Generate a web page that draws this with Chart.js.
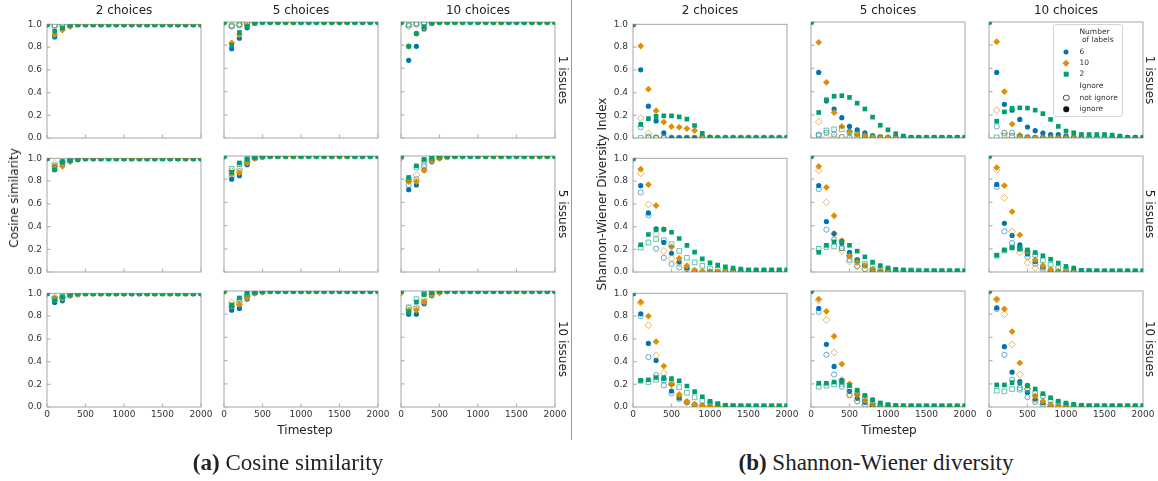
<!DOCTYPE html>
<html>
<head>
<meta charset="utf-8">
<script src="https://cdn.jsdelivr.net/npm/chart.js@4.4.1/dist/chart.umd.min.js"></script>
<style>
	body{margin:0;width:1158px;height:481px;position:relative;background:#fff;overflow:hidden;font-family:"DejaVu Sans",sans-serif;color:#222;}
	canvas{position:absolute;}
	.t{position:absolute;white-space:nowrap;transform-origin:center center;}
	#legend{position:absolute;left:1053px;top:24px;width:68px;height:91px;border:1px solid #d4d4d4;border-radius:3px;background:rgba(255,255,255,0.85);z-index:5;font-size:7.5px;color:#333;}
	#legend div{position:absolute;white-space:nowrap;}
</style>
</head>
<body>
<script>
// timesteps on the x axis
const T = [0,100,200,300,400,500,600,700,800,900,1000,1100,1200,1300,1400,1500,1600,1700,1800,1900,2000];
const xTicks = [0,500,1000,1500,2000];
const yTicks = [0,0.2,0.4,0.6,0.8,1.0];
const choices = ['2 choices','5 choices','10 choices'];
const issues = ['1 issues','5 issues','10 issues'];
const labelCounts = ['6','10','2'];
const ignoreLabels = ['not ignore','ignore'];

// each panel: [6 ignore, 6 not ignore, 10 ignore, 10 not ignore, 2 ignore, 2 not ignore]
// cosine similarity
const cos_1i_2c = [
	[1,.89,.96,.99,1,1,1,1,1,1,1,1,1,1,1,1,1,1,1,1,1],
	[1,.99,1,1,1,1,1,1,1,1,1,1,1,1,1,1,1,1,1,1,1],
	[1,.91,.95,.98,1,1,1,1,1,1,1,1,1,1,1,1,1,1,1,1,1],
	[1,.99,1,1,1,1,1,1,1,1,1,1,1,1,1,1,1,1,1,1,1],
	[1,.94,.97,.99,1,1,1,1,1,1,1,1,1,1,1,1,1,1,1,1,1],
	[1,.99,.99,1,1,1,1,1,1,1,1,1,1,1,1,1,1,1,1,1,1]];
const cos_1i_5c = [
	[1,.77,.86,.95,.99,1,1,1,1,1,1,1,1,1,1,1,1,1,1,1,1],
	[1,.96,.97,.99,1,1,1,1,1,1,1,1,1,1,1,1,1,1,1,1,1],
	[.99,.82,.89,.97,.99,1,1,1,1,1,1,1,1,1,1,1,1,1,1,1,1],
	[1,.97,.98,.99,1,1,1,1,1,1,1,1,1,1,1,1,1,1,1,1,1],
	[1,.80,.91,.96,.99,1,1,1,1,1,1,1,1,1,1,1,1,1,1,1,1],
	[1,.97,.98,.99,1,1,1,1,1,1,1,1,1,1,1,1,1,1,1,1,1]];
const cos_1i_10c = [
	[1,.67,.79,.94,.99,1,1,1,1,1,1,1,1,1,1,1,1,1,1,1,1],
	[1,.97,.98,.99,1,1,1,1,1,1,1,1,1,1,1,1,1,1,1,1,1],
	[.99,.79,.90,.95,.99,1,1,1,1,1,1,1,1,1,1,1,1,1,1,1,1],
	[1,.96,.98,.99,1,1,1,1,1,1,1,1,1,1,1,1,1,1,1,1,1],
	[1,.79,.90,.96,.99,1,1,1,1,1,1,1,1,1,1,1,1,1,1,1,1],
	[1,.98,.99,.99,1,1,1,1,1,1,1,1,1,1,1,1,1,1,1,1,1]];
const cos_5i_2c = [
	[1,.90,.95,.98,.99,1,1,1,1,1,1,1,1,1,1,1,1,1,1,1,1],
	[1,.94,.97,.99,1,1,1,1,1,1,1,1,1,1,1,1,1,1,1,1,1],
	[1,.93,.93,.97,.99,1,1,1,1,1,1,1,1,1,1,1,1,1,1,1,1],
	[1,.96,.97,.99,1,1,1,1,1,1,1,1,1,1,1,1,1,1,1,1,1],
	[1,.90,.97,.98,.99,1,1,1,1,1,1,1,1,1,1,1,1,1,1,1,1],
	[1,.92,.97,.99,1,1,1,1,1,1,1,1,1,1,1,1,1,1,1,1,1]];
const cos_5i_5c = [
	[1,.80,.83,.925,.98,.99,1,1,1,1,1,1,1,1,1,1,1,1,1,1,1],
	[1,.825,.87,.94,.98,1,1,1,1,1,1,1,1,1,1,1,1,1,1,1,1],
	[.99,.845,.855,.94,.98,.99,1,1,1,1,1,1,1,1,1,1,1,1,1,1,1],
	[1,.87,.89,.95,.985,1,1,1,1,1,1,1,1,1,1,1,1,1,1,1,1],
	[1,.86,.94,.975,.99,1,1,1,1,1,1,1,1,1,1,1,1,1,1,1,1],
	[1,.89,.93,.97,.99,1,1,1,1,1,1,1,1,1,1,1,1,1,1,1,1]];
const cos_5i_10c = [
	[1,.71,.75,.88,.95,.98,.99,1,1,1,1,1,1,1,1,1,1,1,1,1,1],
	[1,.75,.80,.91,.96,.99,1,1,1,1,1,1,1,1,1,1,1,1,1,1,1],
	[.98,.78,.78,.875,.955,.98,.99,1,1,1,1,1,1,1,1,1,1,1,1,1,1],
	[1,.79,.835,.93,.97,.99,1,1,1,1,1,1,1,1,1,1,1,1,1,1,1],
	[1,.815,.915,.97,.99,1,1,1,1,1,1,1,1,1,1,1,1,1,1,1,1],
	[1,.80,.90,.96,.98,.99,1,1,1,1,1,1,1,1,1,1,1,1,1,1,1]];
const cos_10i_2c = [
	[1,.92,.935,.98,.99,1,1,1,1,1,1,1,1,1,1,1,1,1,1,1,1],
	[1,.94,.96,.99,1,1,1,1,1,1,1,1,1,1,1,1,1,1,1,1,1],
	[1,.96,.955,.98,.99,1,1,1,1,1,1,1,1,1,1,1,1,1,1,1,1],
	[1,.97,.97,.99,1,1,1,1,1,1,1,1,1,1,1,1,1,1,1,1,1],
	[1,.935,.97,.99,1,1,1,1,1,1,1,1,1,1,1,1,1,1,1,1,1],
	[1,.95,.975,.99,1,1,1,1,1,1,1,1,1,1,1,1,1,1,1,1,1]];
const cos_10i_5c = [
	[1,.835,.85,.93,.98,.99,1,1,1,1,1,1,1,1,1,1,1,1,1,1,1],
	[1,.855,.88,.95,.985,1,1,1,1,1,1,1,1,1,1,1,1,1,1,1,1],
	[.99,.87,.885,.94,.98,.99,1,1,1,1,1,1,1,1,1,1,1,1,1,1,1],
	[1,.90,.905,.955,.99,1,1,1,1,1,1,1,1,1,1,1,1,1,1,1,1],
	[1,.875,.94,.98,.99,1,1,1,1,1,1,1,1,1,1,1,1,1,1,1,1],
	[1,.88,.93,.97,.99,1,1,1,1,1,1,1,1,1,1,1,1,1,1,1,1]];
const cos_10i_10c = [
	[1,.80,.80,.89,.96,.99,1,1,1,1,1,1,1,1,1,1,1,1,1,1,1],
	[1,.82,.85,.91,.97,.99,1,1,1,1,1,1,1,1,1,1,1,1,1,1,1],
	[.98,.835,.835,.905,.965,.985,1,1,1,1,1,1,1,1,1,1,1,1,1,1,1],
	[1,.85,.86,.93,.975,.99,1,1,1,1,1,1,1,1,1,1,1,1,1,1,1],
	[1,.815,.905,.97,.99,1,1,1,1,1,1,1,1,1,1,1,1,1,1,1,1],
	[1,.86,.93,.975,.99,1,1,1,1,1,1,1,1,1,1,1,1,1,1,1,1]];

// shannon-wiener diversity
const div_1i_2c = [
	[1,.60,.28,.15,.045,0,0,0,0,0,0,0,0,0,0,0,0,0,0,0,0],
	[1,.095,.01,0,0,0,0,0,0,0,0,0,0,0,0,0,0,0,0,0,0],
	[1,.81,.43,.24,.14,.10,.095,.083,.066,.015,.005,0,0,0,0,0,0,0,0,0,0],
	[1,.175,.04,.005,0,0,0,0,0,0,0,0,0,0,0,0,0,0,0,0,0],
	[1,.12,.17,.19,.195,.195,.186,.166,.11,.04,.005,0,0,0,0,0,0,0,0,0,0],
	[1,0,.005,0,0,0,0,0,0,0,0,0,0,0,0,0,0,0,0,0,0]];
const div_1i_5c = [
	[1,.565,.32,.25,.175,.10,.07,.045,.02,.01,0,0,0,0,0,0,0,0,0,0,0],
	[1,.03,.045,.03,.01,.005,0,0,0,0,0,0,0,0,0,0,0,0,0,0,0],
	[1,.825,.48,.22,.10,.055,.03,.02,.01,.005,0,0,0,0,0,0,0,0,0,0,0],
	[1,.14,.005,.005,.005,0,0,0,0,0,0,0,0,0,0,0,0,0,0,0,0],
	[1,.22,.33,.36,.365,.35,.30,.25,.18,.11,.07,.037,.017,.005,.005,.005,.005,.005,.005,.005,.005],
	[1,.02,.065,.075,.075,.05,.04,.02,.01,.005,0,0,0,0,0,0,0,0,0,0,0]];
const div_1i_10c = [
	[1,.565,.29,.24,.16,.095,.063,.043,.03,.03,.017,.005,0,0,0,0,0,0,0,0,0],
	[1,.10,.045,.045,.01,.005,0,0,0,0,0,0,0,0,0,0,0,0,0,0,0],
	[1,.83,.40,.12,.025,.005,0,0,0,0,0,0,0,0,0,0,0,0,0,0,0],
	[1,.24,.04,.01,0,0,0,0,0,0,0,0,0,0,0,0,0,0,0,0,0],
	[1,.145,.225,.255,.26,.258,.24,.21,.16,.10,.06,.045,.03,.03,.03,.03,.025,.017,.006,.005,.005],
	[1,.005,.02,.02,.01,.005,0,0,0,0,0,0,0,0,0,0,0,0,0,0,0]];
const div_5i_2c = [
	[1,.76,.52,.38,.26,.165,.09,.035,.01,0,0,0,0,0,0,0,0,0,0,0,0],
	[1,.70,.50,.205,.125,.07,.04,.026,.01,0,0,0,0,0,0,0,0,0,0,0,0],
	[1,.905,.77,.585,.375,.22,.12,.055,.015,.003,0,0,0,0,0,0,0,0,0,0,0],
	[1,.87,.595,.335,.185,.12,.077,.037,.01,0,0,0,0,0,0,0,0,0,0,0,0],
	[1,.24,.33,.37,.375,.35,.295,.235,.175,.115,.08,.06,.045,.035,.025,.02,.02,.02,.02,.02,.02],
	[1,.215,.26,.29,.28,.245,.185,.125,.085,.055,.03,.02,.015,.01,.01,.01,.01,.01,.01,.01,.01]];
const div_5i_5c = [
	[1,.745,.435,.33,.25,.17,.105,.055,.02,.005,0,0,0,0,0,0,0,0,0,0,0],
	[1,.715,.365,.28,.205,.105,.05,.025,.01,0,0,0,0,0,0,0,0,0,0,0,0],
	[1,.91,.73,.485,.27,.14,.083,.055,.026,.01,0,0,0,0,0,0,0,0,0,0,0],
	[1,.875,.60,.33,.18,.09,.05,.026,.01,0,0,0,0,0,0,0,0,0,0,0,0],
	[1,.17,.23,.26,.265,.23,.18,.13,.085,.055,.035,.023,.015,.012,.01,.008,.008,.008,.008,.008,.008],
	[1,.20,.215,.22,.205,.14,.10,.07,.045,.03,.02,.017,.015,.015,.012,.01,.01,.01,.01,.01,.01]];
const div_5i_10c = [
	[1,.755,.42,.315,.235,.155,.09,.043,.014,0,0,0,0,0,0,0,0,0,0,0,0],
	[1,.735,.35,.25,.205,.13,.07,.03,.01,0,0,0,0,0,0,0,0,0,0,0,0],
	[1,.90,.745,.52,.32,.175,.105,.055,.02,.008,0,0,0,0,0,0,0,0,0,0,0],
	[1,.88,.64,.35,.17,.08,.034,.01,0,0,0,0,0,0,0,0,0,0,0,0,0],
	[1,.145,.19,.21,.20,.19,.168,.14,.11,.077,.048,.034,.014,.01,.008,.005,.005,.005,.005,.005,.005],
	[1,.14,.185,.21,.20,.175,.148,.10,.063,.034,.02,.01,.01,.01,.01,.01,.01,.01,.01,.01,.01]];
const div_10i_2c = [
	[1,.82,.56,.41,.25,.14,.08,.045,.02,.01,0,0,0,0,0,0,0,0,0,0,0],
	[1,.80,.44,.28,.19,.12,.07,.04,.02,.01,0,0,0,0,0,0,0,0,0,0,0],
	[1,.925,.80,.575,.36,.20,.11,.045,.023,.008,.005,0,0,0,0,0,0,0,0,0,0],
	[1,.915,.72,.455,.30,.20,.095,.045,.02,.01,0,0,0,0,0,0,0,0,0,0,0],
	[1,.235,.24,.26,.26,.25,.23,.185,.135,.09,.05,.03,.015,.01,.008,.005,.005,.005,.005,.005,.005],
	[1,.23,.22,.24,.235,.21,.175,.125,.085,.055,.035,.02,.01,.01,.01,.01,.01,.01,.01,.01,.01]];
const div_10i_5c = [
	[1,.85,.54,.35,.23,.135,.075,.04,.015,0,0,0,0,0,0,0,0,0,0,0,0],
	[1,.82,.45,.28,.175,.10,.05,.02,0,0,0,0,0,0,0,0,0,0,0,0,0],
	[1,.93,.825,.61,.37,.20,.11,.057,.026,.01,0,0,0,0,0,0,0,0,0,0,0],
	[1,.92,.75,.47,.235,.11,.05,.02,.01,0,0,0,0,0,0,0,0,0,0,0,0],
	[1,.205,.205,.215,.215,.185,.145,.10,.063,.035,.02,.012,.008,.008,.005,.005,.005,.005,.005,.005,.005],
	[1,.175,.185,.195,.20,.165,.12,.08,.043,.023,.015,.01,.01,.01,.01,.01,.01,.01,.01,.01,.01]];
const div_10i_10c = [
	[1,.855,.52,.30,.22,.125,.07,.037,.015,0,0,0,0,0,0,0,0,0,0,0,0],
	[1,.845,.45,.235,.165,.085,.043,.02,0,0,0,0,0,0,0,0,0,0,0,0,0],
	[1,.93,.845,.65,.38,.185,.095,.05,.02,.008,0,0,0,0,0,0,0,0,0,0,0],
	[1,.925,.80,.54,.28,.155,.06,.023,.01,0,0,0,0,0,0,0,0,0,0,0,0],
	[1,.19,.19,.21,.205,.185,.155,.115,.08,.05,.034,.023,.015,.01,.008,.008,.008,.008,.008,.008,.008],
	[1,.14,.135,.155,.15,.145,.12,.095,.06,.037,.02,.01,.01,.01,.01,.01,.01,.01,.01,.01,.01]];

const cosPanels = [[cos_1i_2c, cos_1i_5c, cos_1i_10c], [cos_5i_2c, cos_5i_5c, cos_5i_10c], [cos_10i_2c, cos_10i_5c, cos_10i_10c]];
const divPanels = [[div_1i_2c, div_1i_5c, div_1i_10c], [div_5i_2c, div_5i_5c, div_5i_10c], [div_10i_2c, div_10i_5c, div_10i_10c]];

// layout
const PW = 154, PH = 116;
const rowTop = [22, 156, 291];
const leftCols = [47, 224, 401];
const rightCols = [633, 811, 989];
const colors = ['#0173b2', '#de8f05', '#029e73'];
const hollow = ['rgba(1,115,178,0.6)', 'rgba(222,143,5,0.65)', 'rgba(2,158,115,0.6)'];
const shapes = ['circle', 'rectRot', 'rect'];
const radii = [2.6, 3.4, 3.3];
const tickFont = {family: 'DejaVu Sans', size: 9};

const frame = {
	id: 'frame',
	beforeDatasetsDraw(chart){
		const {ctx, chartArea: a, scales} = chart;
		ctx.save();
		ctx.strokeStyle = '#b5b5b5';
		ctx.lineWidth = 1.2;
		ctx.strokeRect(a.left, a.top, a.width, a.height);
		ctx.beginPath();
		xTicks.forEach((v) =>{
			const x = scales.x.getPixelForValue(v);
			ctx.moveTo(x, a.bottom); ctx.lineTo(x, a.bottom - 3.5);
		});
		yTicks.forEach((v) =>{
			const y = scales.y.getPixelForValue(v);
			ctx.moveTo(a.left, y); ctx.lineTo(a.left + 3.5, y);
		});
		ctx.stroke();
		ctx.restore();
	}
};

function panel(px, py, r, c, series){
	const cv = document.createElement('canvas');
	cv.width = PW + 40 + 14;
	cv.height = PH + 8 + 22;
	cv.style.left = (px - 40) + 'px';
	cv.style.top = (py - 8) + 'px';
	document.body.appendChild(cv);

	// chart.js paints dataset 0 last, so the green (2 labels) series go first
	let datasets = [];
	for (let k = 2; k >= 0; k--){
		for (let ign = 1; ign >= 0; ign--){
			const vals = series[k*2 + (ign ? 0 : 1)];
			datasets.push({
				label: labelCounts[k] + ' ' + ignoreLabels[ign],
				data: T.map((t, i) => ({x: t, y: vals[i]})),
				pointStyle: shapes[k],
				pointRadius: radii[k],
				backgroundColor: ign ? colors[k] : 'rgba(0,0,0,0)',
				borderColor: ign ? colors[k] : hollow[k],
				borderWidth: ign ? 0 : 1,
				showLine: false,
				clip: 0
			});
		}
	}

	new Chart(cv, {
		type: 'scatter',
		data: {datasets: datasets},
		options: {
			responsive: false,
			animation: false,
			devicePixelRatio: 1,
			layout: {padding: {top: 8, right: 14, left: 0, bottom: 0}},
			plugins: {legend: {display: false}, tooltip: {enabled: false}},
			scales: {
				x: {
					type: 'linear', min: 0, max: 2000,
					afterBuildTicks: (s) =>{ s.ticks = xTicks.map(v => ({value: v})); },
					afterFit: (s) =>{ s.height = 22; },
					ticks: {display: r == 2, font: tickFont, color: '#333', padding: 2, maxRotation: 0, autoSkip: false, callback: v => String(v)},
					grid: {display: false, drawTicks: false, tickLength: 0},
					border: {display: false}
				},
				y: {
					min: 0, max: 1,
					afterBuildTicks: (s) =>{ s.ticks = yTicks.map(v => ({value: v})); },
					afterFit: (s) =>{ s.width = 40; },
					ticks: {display: c == 0, font: tickFont, color: '#333', padding: 5, callback: v => v.toFixed(1)},
					grid: {display: false, drawTicks: false, tickLength: 0},
					border: {display: false}
				}
			}
		},
		plugins: [frame]
	});
}

function txt(str, x, y, size, rot, family){
	const d = document.createElement('div');
	d.className = 't';
	d.innerHTML = str;
	d.style.fontSize = size + 'px';
	if (family) d.style.fontFamily = family;
	d.style.left = x + 'px';
	d.style.top = y + 'px';
	d.style.transform = 'translate(-50%,-50%) rotate(' + (rot || 0) + 'deg)';
	document.body.appendChild(d);
}

for (let r = 0; r < 3; r++){
	for (let c = 0; c < 3; c++){
		panel(leftCols[c], rowTop[r], r, c, cosPanels[r][c]);
		panel(rightCols[c], rowTop[r], r, c, divPanels[r][c]);
	}
}

for (let c = 0; c < 3; c++){
	txt(choices[c], leftCols[c] + PW/2, 10, 12);
	txt(choices[c], rightCols[c] + PW/2, 10, 12);
}
for (let r = 0; r < 3; r++){
	txt(issues[r], 563, rowTop[r] + PH/2, 12, 90);
	txt(issues[r], 1150, rowTop[r] + PH/2, 12, 90);
}
txt('Cosine similarity', 14, 198, 12, -90);
txt('Shannon-Wiener Diversity Index', 602, 194, 12, -90);
txt('Timestep', 305, 430, 12);
txt('Timestep', 889, 430, 12);
txt('<b>(a)</b> Cosine similarity', 288, 463, 23, 0, '"Liberation Serif", serif');
txt('<b>(b)</b> Shannon-Wiener diversity', 876, 463, 23, 0, '"Liberation Serif", serif');

const sep = document.createElement('div');
sep.style.cssText = 'position:absolute;left:571px;top:0;width:1px;height:440px;background:#999;';
document.body.appendChild(sep);

// legend
const lg = document.createElement('div');
lg.id = 'legend';
const mk = (css, x, y, rot) =>{ const m = document.createElement('div'); m.style.cssText = css + 'left:' + x + 'px;top:' + y + 'px;transform:translate(-50%,-50%)' + (rot ? ' rotate(45deg)' : '') + ';'; lg.appendChild(m); };
const lt = (s, x, y) =>{ const t = document.createElement('div'); t.textContent = s; t.style.left = x + 'px'; t.style.top = (y - 5) + 'px'; t.style.lineHeight = '10px'; lg.appendChild(t); };
lt('Number', 25.5, 6.7);
lt('of labels', 28, 15.3);
const lrows = [27, 38.3, 49.3];
mk('width:5px;height:5px;border-radius:50%;background:' + colors[0] + ';', 12, lrows[0]);
mk('width:4.6px;height:4.6px;background:' + colors[1] + ';', 12, lrows[1], true);
mk('width:4.6px;height:4.6px;background:' + colors[2] + ';', 12, lrows[2]);
labelCounts.forEach((s, i) => lt(s, 25.5, lrows[i]));
lt('Ignore', 25.5, 61.3);
mk('width:4.5px;height:4.5px;border-radius:50%;border:1px solid #444;box-sizing:content-box;', 12, 72.7);
mk('width:5.5px;height:5.5px;border-radius:50%;background:#111;', 12, 84);
lt(ignoreLabels[0], 25.5, 72.7);
lt(ignoreLabels[1], 25.5, 84);
document.body.appendChild(lg);
</script>
</body>
</html>
